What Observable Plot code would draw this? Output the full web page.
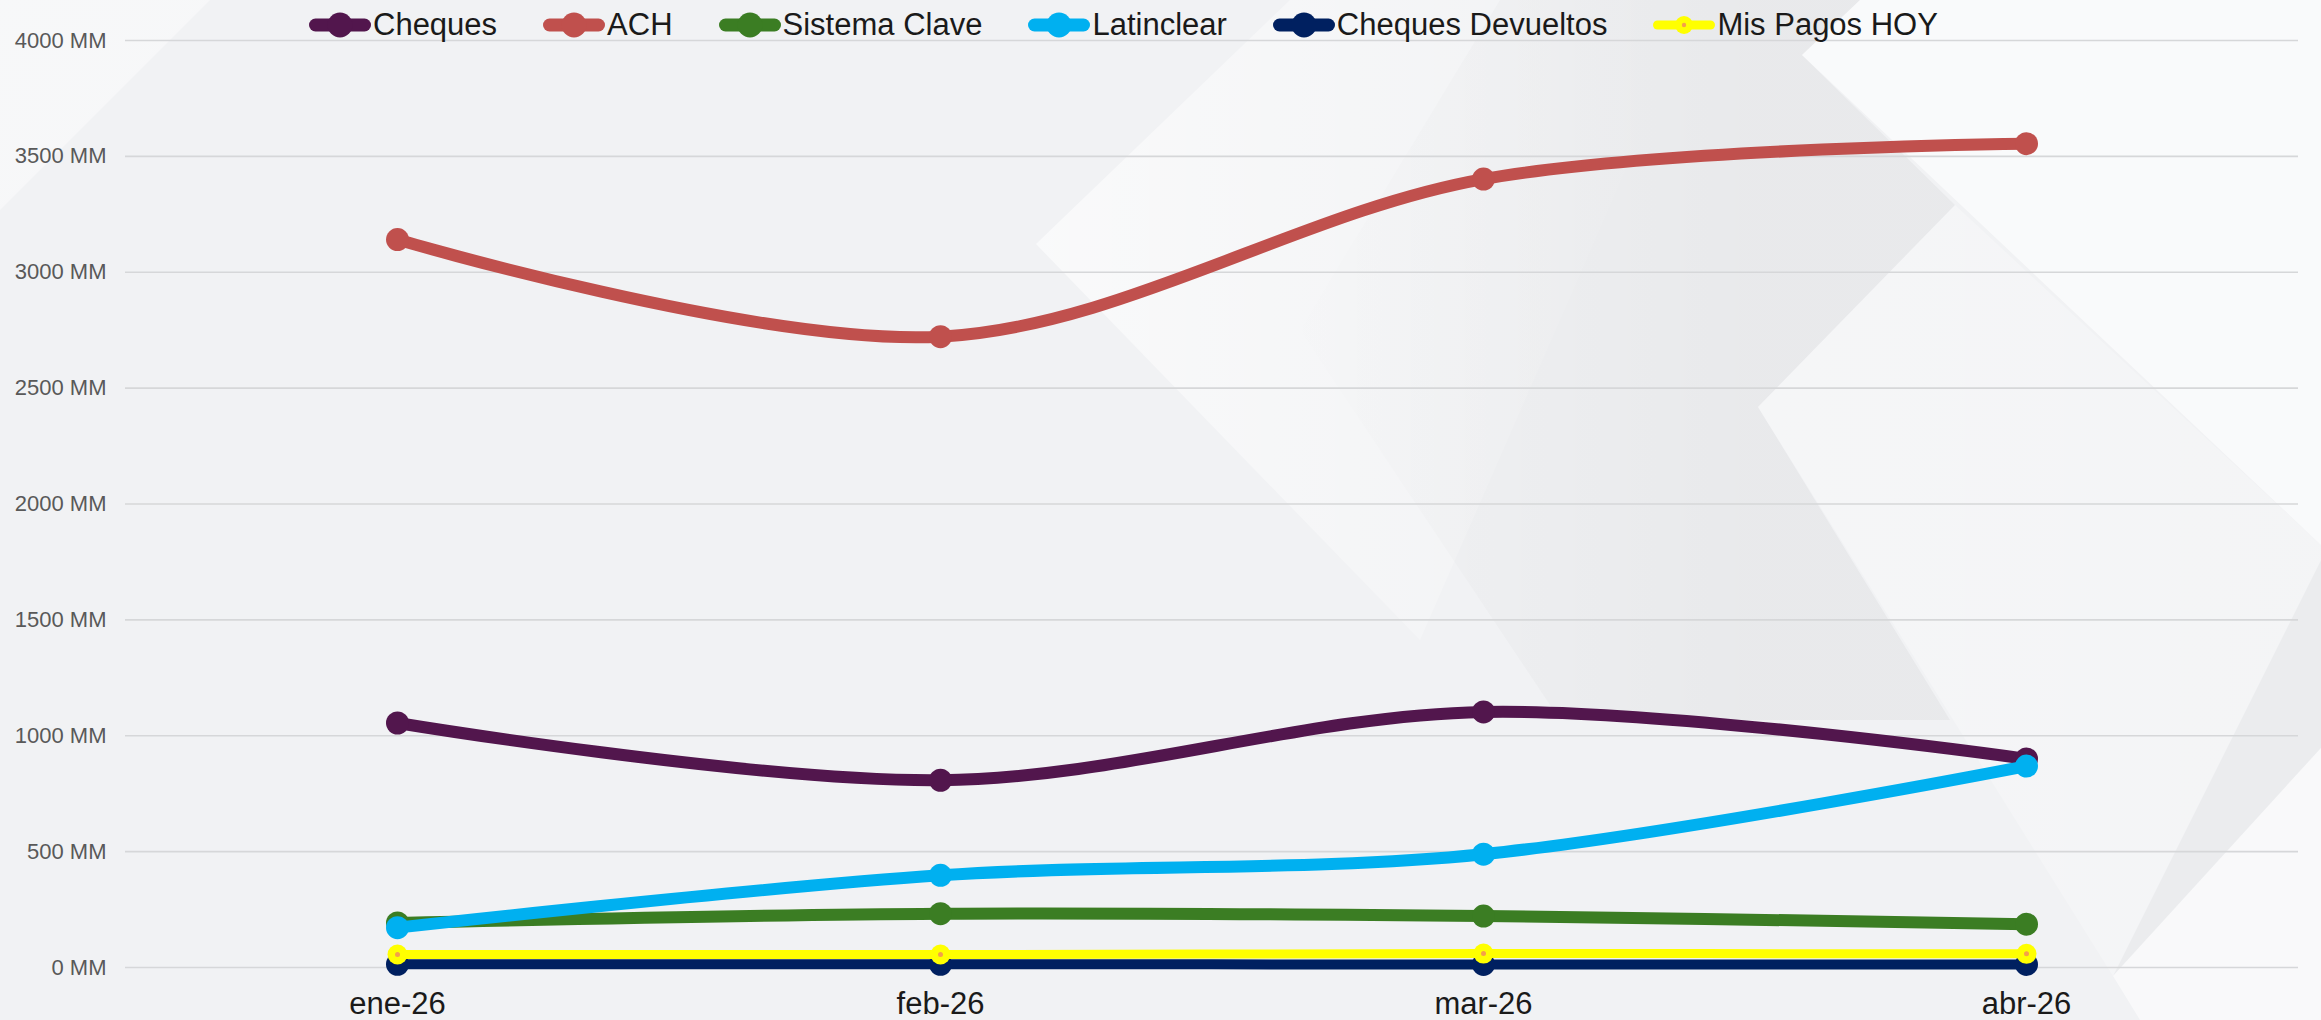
<!DOCTYPE html>
<html>
<head>
<meta charset="utf-8">
<script src="https://cdn.jsdelivr.net/npm/d3@7"></script>
<script src="https://cdn.jsdelivr.net/npm/@observablehq/plot@0.6"></script>
<style>
  html, body { margin: 0; padding: 0; }
  body { background: #f1f2f4; font-family: "Liberation Sans", Arial, sans-serif; overflow: hidden; }
  #wrap { position: relative; width: 2321px; height: 1020px; overflow: hidden; }
  .bg { position: absolute; left: 0; top: 0; width: 2321px; height: 1020px; pointer-events: none; }
  #chart { position: absolute; left: 0; top: 0; }
  #legend { position: absolute; left: 309px; top: 0; height: 50px; display: flex; align-items: center; gap: 46px; }
  .item { display: flex; align-items: center; gap: 2px; font-size: 31px; color: #1a1a1a; white-space: nowrap; }
  .item svg { display: block; }
</style>
</head>
<body>
<div id="wrap">
  <div class="bg" style="background: linear-gradient(135deg, rgba(255,255,255,0.45), rgba(255,255,255,0)); clip-path: polygon(0 0, 210px 0, 0 210px);"></div>
  <div class="bg" style="background: linear-gradient(90deg, rgba(255,255,255,0.6) 45%, rgba(255,255,255,0) 72%); clip-path: polygon(1036px 244px, 1290px 0, 1700px 0, 1420px 640px);"></div>
  <div class="bg" style="background: linear-gradient(90deg, rgba(0,0,0,0) 55%, rgba(0,0,0,0.035) 75%); clip-path: polygon(1500px 0, 1860px 0, 1802px 55px, 1955px 205px, 1758px 407px, 1950px 720px, 1560px 720px, 1300px 330px);"></div>
  <div class="bg" style="background: rgba(255,255,255,0.6); clip-path: polygon(1802px 55px, 1860px 0, 2321px 0, 2321px 545px);"></div>
  <div class="bg" style="background: linear-gradient(90deg, rgba(255,255,255,0.65), rgba(255,255,255,0.2)); clip-path: polygon(1955px 205px, 1758px 407px, 2113px 976px, 2321px 560px, 2321px 545px);"></div>
  <div class="bg" style="background: rgba(0,0,0,0.025); clip-path: polygon(2321px 560px, 2113px 976px, 2321px 748px);"></div>
  <div class="bg" style="background: rgba(255,255,255,0.55); clip-path: polygon(2113px 976px, 2321px 748px, 2321px 1020px, 2140px 1020px);"></div>
  <div id="chart"></div>
  <div id="legend"></div>
</div>
<script>
// ---- data ----
const months = ["ene-26", "feb-26", "mar-26", "abr-26"];
const seriesNames = ["Cheques", "ACH", "Sistema Clave", "Latinclear", "Cheques Devueltos", "Mis Pagos HOY"];
const seriesColors = ["#52164d", "#c0504d", "#3b7d23", "#00b0f0", "#002060", "#ffff00"];
const cheques = [1055, 808, 1103, 900];
const ach = [3141, 2722, 3402, 3555];
const sistemaClave = [192, 232, 222, 187];
const latinclear = [172, 398, 489, 869];
const chequesDevueltos = [14, 14, 13, 13];
const misPagosHoy = [56, 56, 60, 59];
const yTicks = [0, 500, 1000, 1500, 2000, 2500, 3000, 3500, 4000];

const seriesValues = [cheques, ach, sistemaClave, latinclear, chequesDevueltos, misPagosHoy];
const rows = seriesNames.map((name, i) =>
  months.map((m, j) => ({ series: name, month: m, value: seriesValues[i][j] }))
);

const lineWidth = { "Cheques Devueltos": 10, "Mis Pagos HOY": 9 };
const dotR = { "Mis Pagos HOY": 10 };

const marks = [
  Plot.gridY(yTicks, { stroke: "#d6d7d9", strokeOpacity: 1, strokeWidth: 1.6 }),
  Plot.axisY(yTicks, { tickSize: 0, tickPadding: 19, fontSize: 22, color: "#595959", tickFormat: d => d + " MM" }),
  Plot.axisX({ tickSize: 0, tickPadding: 24, fontSize: 31, color: "#1a1a1a" })
];
seriesNames.forEach((name, i) => {
  const c = seriesColors[i];
  marks.push(Plot.line(rows[i], { x: "month", y: "value", stroke: c, strokeWidth: lineWidth[name] || 12, curve: "catmull-rom" }));
  marks.push(Plot.dot(rows[i], { x: "month", y: "value", r: dotR[name] || 11.5, fill: c, stroke: "none" }));
  if (name === "Mis Pagos HOY") {
    marks.push(Plot.dot(rows[i], { x: "month", y: "value", r: 2.5, fill: "#f4a04a", stroke: "none" }));
  }
});

const chart = Plot.plot({
  width: 2321,
  height: 1020,
  marginTop: 40,
  marginBottom: 53,
  marginLeft: 125,
  marginRight: 23,
  style: { background: "transparent", fontFamily: "'Liberation Sans', Arial, sans-serif", overflow: "visible" },
  x: { type: "point", domain: months, padding: 0.5, label: null },
  y: { domain: [0, 4000], label: null },
  marks
});
document.getElementById("chart").appendChild(chart);

// ---- legend ----
const legend = document.getElementById("legend");
seriesNames.forEach((name, i) => {
  const c = seriesColors[i];
  const isYellow = name === "Mis Pagos HOY";
  const item = document.createElement("div");
  item.className = "item";
  const sw = isYellow ? 9 : 13;
  const r = isYellow ? 9 : 12.5;
  item.innerHTML =
    `<svg width="62" height="30" viewBox="0 0 62 30">
       <line x1="${sw/2}" y1="15" x2="${62 - sw/2}" y2="15" stroke="${c}" stroke-width="${sw}" stroke-linecap="round"/>
       <circle cx="31" cy="15" r="${r}" fill="${c}"/>
       ${isYellow ? '<circle cx="31" cy="15" r="2.2" fill="#f4a04a"/>' : ''}
     </svg><span>${name}</span>`;
  legend.appendChild(item);
});
</script>
</body>
</html>
